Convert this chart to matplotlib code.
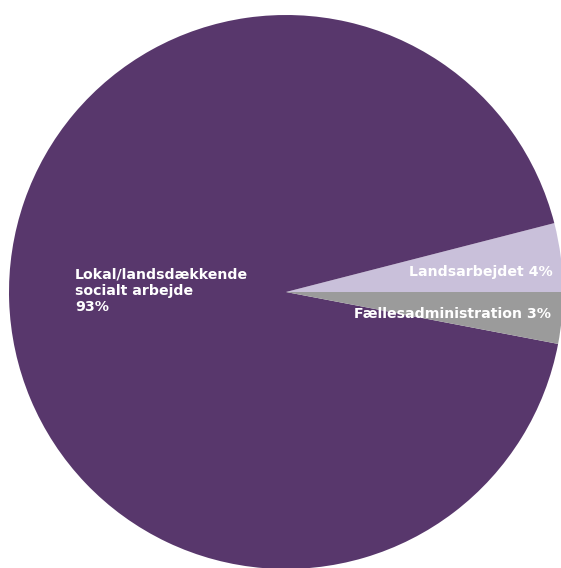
import matplotlib
matplotlib.use("Agg")
import matplotlib.pyplot as plt

# Data
labels = ["Landsarbejdet", "Lokal/landsdækkende\nsocialt arbejde", "Fællesadministration"]
values = [4, 93, 3]
colors = ["#C9C0DA", "#58376C", "#9B9B9B"]

fig = plt.figure(figsize=(5.61, 5.68), dpi=100)
ax = fig.add_axes([0, 0, 1, 1])

cx, cy, r = 286, 568 - 292, 277
ax.pie(values, colors=colors, startangle=0, counterclock=True,
       center=(cx, cy), radius=r, frame=True,
       wedgeprops=dict(linewidth=0))
ax.set_xlim(0, 561)
ax.set_ylim(0, 568)
ax.set_aspect("equal")
ax.axis("off")

font = dict(color="white", fontweight="bold", family=["DejaVu Sans"], fontsize=10.2)
ax.text(75, 568 - 291, f"{labels[1]}\n{values[1]}%", ha="left", va="center",
        linespacing=1.2, **font)
ax.text(553, 568 - 272, f"{labels[0]} {values[0]}%", ha="right", va="center", **font)
ax.text(551, 568 - 314, f"{labels[2]} {values[2]}%", ha="right", va="center", **font)

plt.savefig("out.png", dpi=100)
